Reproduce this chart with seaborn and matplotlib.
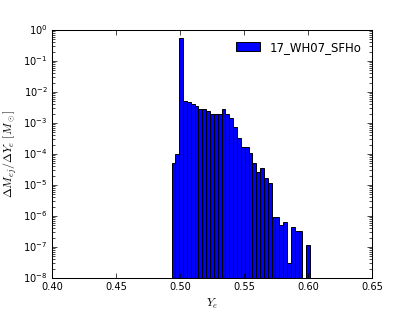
import numpy as np
import pandas as pd
import matplotlib
matplotlib.use("Agg")
import matplotlib.pyplot as plt
import seaborn as sns

# bin range of the Ye histogram (36 bins, ~0.003 wide)
ye_lo = 0.4935
ye_hi = 0.6018
n_bins = 36

# dM_ej/dYe per bin
dm_dye = [5.0e-5, 1.0e-4, 5.6e-1, 5.2e-3, 4.7e-3, 4.1e-3, 3.5e-3, 2.8e-3,
          2.75e-3, 2.5e-3, 1.9e-3, 1.9e-3, 1.9e-3, 2.9e-3, 2.0e-3, 1.5e-3,
          7.6e-4, 3.2e-4, 1.7e-4, 1.7e-4, 1.05e-4, 5.0e-5, 2.6e-5, 3.5e-5,
          1.65e-5, 1.12e-5, 9.5e-7, 9.5e-7, 5.1e-7, 6.6e-7, 2.95e-8, 4.5e-7,
          3.4e-7, 3.4e-7, 0.0, 1.12e-7]
model = "17_WH07_SFHo"

edges = np.linspace(ye_lo, ye_hi, n_bins + 1)
centers = 0.5 * (edges[:-1] + edges[1:])
df = pd.DataFrame({"ye": centers, "dm": dm_dye})

plt.style.use("classic")
plt.rcParams["font.size"] = 7.1
plt.rcParams["mathtext.fontset"] = "cm"
plt.rcParams["axes.linewidth"] = 0.75
plt.rcParams["xtick.major.size"] = 3.5
plt.rcParams["ytick.major.size"] = 3.5
plt.rcParams["xtick.minor.size"] = 2
plt.rcParams["ytick.minor.size"] = 2
plt.rcParams["xtick.major.pad"] = 3
plt.rcParams["ytick.major.pad"] = 3

fig = plt.figure(figsize=(4.15, 3.12), dpi=100)
ax = fig.add_axes([0.125, 0.109, 0.771, 0.795])

sns.histplot(data=df, x="ye", weights="dm", bins=n_bins,
             binrange=(ye_lo, ye_hi), stat="count",
             color="blue", edgecolor="black", linewidth=0.7, alpha=1,
             label=model, ax=ax)
ax.set_yscale("log")
ax.set_xlim(0.40, 0.65)
ax.set_ylim(1e-8, 1e0)
ax.set_xticks([0.40, 0.45, 0.50, 0.55, 0.60, 0.65])
ax.set_xticklabels(["0.40", "0.45", "0.50", "0.55", "0.60", "0.65"])
ax.set_xlabel(r"$Y_e$", fontsize=8.5)
ax.set_ylabel(r"$\Delta M_{ej}/\Delta Y_e\ [M_\odot]$", fontsize=8.5)
ax.xaxis.set_label_coords(0.5, -0.078)
ax.yaxis.set_label_coords(-0.103, 0.5)
ax.legend(loc="upper right", frameon=False, fontsize=8.5)

fig.savefig("out.png", dpi=100)
